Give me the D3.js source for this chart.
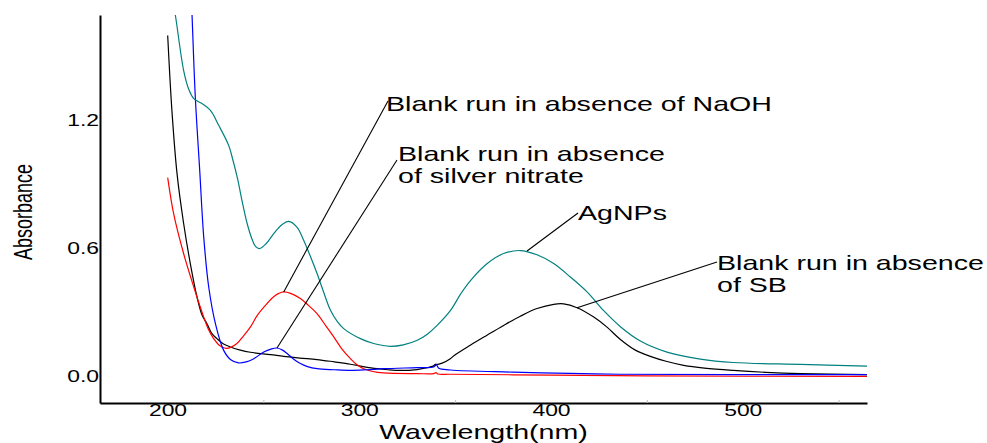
<!DOCTYPE html>
<html>
<head>
<meta charset="utf-8">
<script src="https://cdn.jsdelivr.net/npm/d3@7/dist/d3.min.js"></script>
<style>
  html, body { margin: 0; padding: 0; background: #fff; }
  svg { display: block; }
  text { font-family: "Liberation Sans", Arial, sans-serif; fill: #000; }
</style>
</head>
<body>
<svg id="chart" width="987" height="443"></svg>
<script>
// UV-Vis absorption spectra (wavelength in nm, absorbance)

// AgNPs
const agnpWl  = [202, 204.1, 208.4, 211, 213.7, 218, 222.4, 226.7, 231.9, 234, 236.5, 239, 241.5, 244.1, 246, 247.9, 251.5, 255.4, 259.5, 263.2, 267.5, 271, 274.5, 278, 281.5, 285, 288.5, 291.9, 300.6, 308, 316.2, 323, 330, 335.5, 340.5, 347.5, 353, 357.9, 366.6, 375.3, 384, 392.7, 401.4, 410.1, 418.8, 427.5, 436.2, 446.6, 460.5, 477.9, 495.1, 530, 565];
const agnpAbs = [1.80, 1.695, 1.437, 1.35, 1.304, 1.281, 1.249, 1.179, 1.085, 1.02, 0.93, 0.82, 0.72, 0.645, 0.61, 0.601, 0.625, 0.671, 0.712, 0.729, 0.702, 0.640, 0.565, 0.484, 0.395, 0.312, 0.26, 0.226, 0.179, 0.155, 0.143, 0.150, 0.170, 0.20, 0.24, 0.31, 0.39, 0.45, 0.53, 0.578, 0.592, 0.572, 0.531, 0.468, 0.398, 0.31, 0.235, 0.168, 0.116, 0.083, 0.067, 0.058, 0.050];

// Blank run in absence of SB
const sbWl  = [200.1, 202.3, 205, 208.4, 211.9, 215.4, 218, 220.6, 223, 225.8, 229, 232.8, 238, 243.2, 253.7, 260.6, 269, 278, 287, 295.4, 302, 309.3, 315, 321.5, 330.1, 335, 338.5, 339.7, 341, 343.2, 347.5, 349.2, 357.9, 366.6, 375.3, 384, 392.7, 401.4, 406.6, 413.6, 422.3, 429.2, 436.2, 444, 451.8, 460, 469.2, 480, 495.1, 512, 530.1, 565];
const sbAbs = [1.60, 1.249, 0.95, 0.72, 0.531, 0.374, 0.29, 0.249, 0.205, 0.179, 0.155, 0.140, 0.125, 0.115, 0.104, 0.096, 0.088, 0.081, 0.070, 0.059, 0.048, 0.038, 0.033, 0.030, 0.034, 0.042, 0.050, 0.058, 0.058, 0.064, 0.085, 0.098, 0.148, 0.195, 0.241, 0.284, 0.320, 0.340, 0.342, 0.324, 0.280, 0.233, 0.175, 0.125, 0.096, 0.073, 0.054, 0.041, 0.030, 0.021, 0.015, 0.010];

// Blank run in absence of NaOH
const naohWl  = [200.1, 203.2, 208.4, 213.7, 218.9, 221.5, 224.1, 227, 230.2, 233, 236.2, 239.5, 243.2, 247, 251.9, 256, 260.6, 264.5, 269.3, 273.5, 278, 282.5, 286.7, 291, 295.4, 299, 302.3, 307, 312.7, 330.1, 338.8, 340, 341, 347.5, 400, 450, 565];
const naohAbs = [0.934, 0.765, 0.578, 0.421, 0.280, 0.22, 0.179, 0.148, 0.134, 0.138, 0.156, 0.19, 0.233, 0.29, 0.343, 0.38, 0.398, 0.39, 0.367, 0.335, 0.296, 0.24, 0.187, 0.13, 0.085, 0.055, 0.038, 0.025, 0.018, 0.015, 0.015, 0.02, 0.013, 0.012, 0.008, 0.004, 0.002];

// Blank run in absence of silver nitrate
const agno3Wl  = [211, 212.8, 214.5, 216.8, 218.9, 221.5, 225, 229.3, 233, 237.1, 241, 245, 250.2, 254, 257.1, 260, 262.4, 265.5, 269.3, 273, 278, 287, 295.4, 304, 312.7, 330.1, 338.8, 340.3, 341.5, 347.5, 380, 436, 565];
const agno3Abs = [2.1, 1.695, 1.312, 0.968, 0.655, 0.421, 0.249, 0.124, 0.08, 0.065, 0.07, 0.085, 0.116, 0.13, 0.135, 0.125, 0.109, 0.085, 0.062, 0.048, 0.038, 0.033, 0.030, 0.033, 0.038, 0.043, 0.046, 0.056, 0.040, 0.032, 0.022, 0.012, 0.010];

// Axis ticks
const xTickValues = [200, 300, 400, 500];
const xMinorTicks = [250, 350, 450, 550];
const yTickValues = [0.0, 0.6, 1.2];

// Callout labels and the spectral feature each one points to
const calloutText = [
  ["Blank run in absence of NaOH"],
  ["Blank run in absence", "of silver nitrate"],
  ["AgNPs"],
  ["Blank run in absence", "of SB"]
];
const calloutTarget = [[260.6, 0.398], [257.1, 0.135], [387.5, 0.590], [413.6, 0.324]];

const series = [
  { wl: sbWl,    abs: sbAbs,    color: "#000000" },
  { wl: naohWl,  abs: naohAbs,  color: "#ff0000" },
  { wl: agno3Wl, abs: agno3Abs, color: "#0000ff" },
  { wl: agnpWl,  abs: agnpAbs,  color: "#008080" }
];

// ---- layout ----
const svg = d3.select("#chart");
const plot = { left: 100, right: 867, top: 15, bottom: 403 };
const stretch = 1.43;   // wide lettering used throughout the figure

const x = d3.scaleLinear().domain([164.8, 564.8]).range([plot.left, plot.right]);
const y = d3.scaleLinear().domain([-0.1228, 1.6963]).range([plot.bottom, plot.top]);

function widen(sel, k) {
  sel.each(function () {
    const t = d3.select(this);
    const tx = +t.attr("x") || 0;
    t.attr("transform", `translate(${tx},0) scale(${k},1) translate(${-tx},0)`);
  });
}

svg.append("defs").append("clipPath").attr("id", "plotClip")
  .append("rect")
  .attr("x", plot.left).attr("y", plot.top)
  .attr("width", plot.right - plot.left).attr("height", plot.bottom - plot.top);

// ---- spectra ----
const line = d3.line()
  .x(d => x(d[0]))
  .y(d => y(d[1]))
  .curve(d3.curveCatmullRom.alpha(0.5));

const curves = svg.append("g").attr("clip-path", "url(#plotClip)");
series.forEach(s => {
  curves.append("path")
    .datum(s.wl.map((w, i) => [w, s.abs[i]]))
    .attr("d", line)
    .attr("fill", "none")
    .attr("stroke", s.color)
    .attr("stroke-width", 1.2)
    .attr("stroke-linejoin", "round");
});

// ---- axes ----
const xAxis = svg.append("g")
  .attr("transform", `translate(0,${plot.bottom})`)
  .call(d3.axisBottom(x).tickValues(xTickValues).tickSize(0).tickSizeOuter(0).tickFormat(d3.format("d")));
xAxis.select(".domain").attr("stroke", "#000").attr("stroke-width", 2);
xAxis.selectAll(".tick text")
  .attr("y", 13).attr("dy", null)
  .style("font-size", "16px");
widen(xAxis.selectAll(".tick text"), stretch);

const xMinor = svg.append("g")
  .attr("transform", `translate(0,${plot.bottom})`)
  .call(d3.axisBottom(x).tickValues(xMinorTicks).tickSizeInner(-3).tickSizeOuter(0).tickFormat(""));
xMinor.select(".domain").remove();
xMinor.selectAll(".tick line").attr("stroke", "#bbbbbb");

const yAxis = svg.append("g")
  .attr("transform", `translate(${plot.left},0)`)
  .call(d3.axisLeft(y).tickValues(yTickValues).tickSize(0).tickSizeOuter(0).tickPadding(1).tickFormat(d3.format(".1f")));
yAxis.select(".domain").attr("stroke", "#000").attr("stroke-width", 2);
yAxis.selectAll(".tick text").style("font-size", "16px");
widen(yAxis.selectAll(".tick text"), stretch);

// axis titles
svg.append("text")
  .attr("text-anchor", "middle")
  .attr("transform", `translate(${(plot.left + plot.right) / 2},439) scale(${stretch},1)`)
  .style("font-size", "20px")
  .text("Wavelength(nm)");

svg.append("text")
  .attr("text-anchor", "middle")
  .attr("transform", `translate(32,212) rotate(-90) scale(1,${stretch})`)
  .style("font-size", "18px")
  .text("Absorbance");

// ---- callouts ----
const calloutLayout = [
  { tx: 386, ty: 111, lx: 388, ly: 101 },
  { tx: 398, ty: 161, lx: 397, ly: 160 },
  { tx: 578, ty: 220, lx: 578, ly: 213 },
  { tx: 717, ty: 270, lx: 717, ly: 262 }
];

calloutText.forEach((lines, i) => {
  const L = calloutLayout[i];
  const [tw, ta] = calloutTarget[i];
  svg.append("line")
    .attr("x1", L.lx).attr("y1", L.ly)
    .attr("x2", x(tw)).attr("y2", y(ta))
    .attr("stroke", "#000").attr("stroke-width", 1.1);
  lines.forEach((str, j) => {
    const t = svg.append("text")
      .attr("x", L.tx).attr("y", L.ty + j * 22.5)
      .style("font-size", "20px")
      .text(str);
    widen(t, stretch);
  });
});
</script>
</body>
</html>
